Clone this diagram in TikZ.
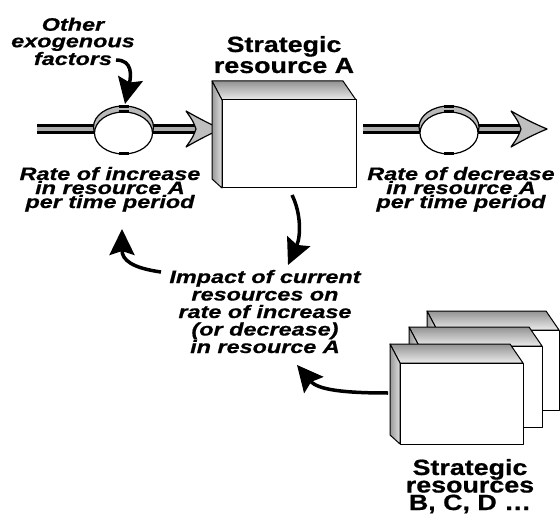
\documentclass[tikz,border=0pt]{standalone}
\usepackage{fontspec}
\setmainfont{Liberation Sans}
\newfontfamily\lblfont[FakeStretch=1.3,FakeBold=0.7]{Liberation Sans}
\newfontfamily\ttlfont[FakeStretch=1.22,FakeBold=0.7]{Liberation Sans}
\usetikzlibrary{arrows.meta}
\tikzset{
  lbl/.style={font={\lblfont\bfseries\itshape\fontsize{18}{14}\selectfont}, align=center, inner sep=0pt, anchor=base},
  ttl/.style={font={\ttlfont\bfseries\fontsize{22}{17.5}\selectfont}, align=center, inner sep=0pt, anchor=base},
  conn/.style={line width=3.5pt, -{Stealth[length=26pt,width=25pt,inset=4pt]}},
  pipeouter/.style={line width=10pt, black},
  pipeinner/.style={line width=3.5pt, gray!65},
  flowhead/.style={fill=gray!50, draw=black, line width=1.2pt, line join=round},
  boxedge/.style={draw=black, line width=1pt, line join=round}
}
% 3D box: front face (#1,#2)-(#3,#4)
\newcommand\ResBox[4]{%
  \shade[top color=gray!85, bottom color=gray!15, boxedge] (#1-10,#2-19) -- (#3-13,#2-19) -- (#3,#2) -- (#1,#2) -- cycle;
  \shade[left color=gray!80, right color=gray!25, boxedge] (#1-10,#2-19) -- (#1,#2) -- (#1,#4) -- (#1-10,#4-9) -- cycle;
  \draw[boxedge, fill=white] (#1,#2) rectangle (#3,#4);
}
% valve centred at (#1,#2)
\newcommand\Valve[2]{%
  \draw[fill=gray!55, line width=1.2pt] (#1,#2-2) ellipse [x radius=30, y radius=21];
  \draw[fill=white, line width=1.2pt] (#1,#2+4) ellipse [x radius=29, y radius=21];
  \fill (#1-5,#2-24) rectangle (#1+5,#2-21);
  \fill (#1-5,#2-18.5) rectangle (#1+5,#2-15.5);
  \fill (#1-5,#2+23.5) rectangle (#1+5,#2+26.5);
}
\begin{document}
\begin{tikzpicture}[x=1pt,y=-1pt]
\useasboundingbox (0,0) rectangle (560,524);

% texts (anchor=base sits on the last line)
\node[lbl, font={\lblfont\bfseries\itshape\fontsize{18}{16.5}\selectfont}] (oth) at (73,65) {Other\\exogenous\\factors};
\node[ttl, font={\ttlfont\bfseries\fontsize{22}{21}\selectfont}] (ttlA) at (284,73) {Strategic\\resource A};
\node[lbl] (rinc) at (110,208) {Rate of increase\\in resource A\\per time period};
\node[lbl] (rdec) at (461,208) {Rate of decrease\\in resource A\\per time period};
\node[lbl, font={\lblfont\bfseries\itshape\fontsize{18}{17.5}\selectfont}] (imp) at (265,353) {Impact of current\\resources on\\rate of increase\\(or decrease)\\in resource A};
\node[ttl] (ttlB) at (470,510) {Strategic\\resources\\B, C, D …};

% pipes
\coordinate (pinL) at (37,129);
\coordinate (pinR) at (197,129);
\coordinate (poutL) at (363,129);
\coordinate (poutR) at (522,129);
\draw[pipeouter] (pinL) -- (pinR);
\draw[pipeinner] (pinL) -- (pinR);
\draw[pipeouter] (poutL) -- (poutR);
\draw[pipeinner] (poutL) -- (poutR);

% flow arrow heads
\filldraw[flowhead] (196,129) .. controls (193,121) .. (186,111) .. controls (200,119) and (210,124) .. (221,129) .. controls (210,134) and (200,139) .. (186,147) .. controls (193,137) .. (196,129) -- cycle;
\filldraw[flowhead] (521,129) .. controls (518,121) .. (511,111) .. controls (525,119) and (535,124) .. (547,129) .. controls (535,134) and (525,139) .. (511,147) .. controls (518,137) .. (521,129) -- cycle;

% valves
\Valve{123.5}{129}
\Valve{449}{129}

% main stock box
\ResBox{222}{100}{356}{188}

% stacked boxes
\ResBox{437}{330}{559}{410}
\ResBox{419}{346}{542}{427}
\ResBox{400}{363}{523}{444}

% connectors
\coordinate (f1) at (116,60);
\coordinate (vtop) at (125,104);
\draw[conn] (f1) .. controls (133,60) and (131,76) .. (vtop);

\coordinate (a1) at (292,195);
\coordinate (a2) at (288,265);
\draw[conn] (a1) .. controls (301,213) and (301,236) .. (a2);

\coordinate (i1) at (161,272);
\coordinate (i2) at (122,229);
\draw[conn] (i1) .. controls (132,268) and (122,260) .. (i2);

\coordinate (s1) at (388,393);
\coordinate (s2) at (297,365);
\draw[conn] (s1) .. controls (345,393) and (318,390) .. (s2);
\end{tikzpicture}
\end{document}
